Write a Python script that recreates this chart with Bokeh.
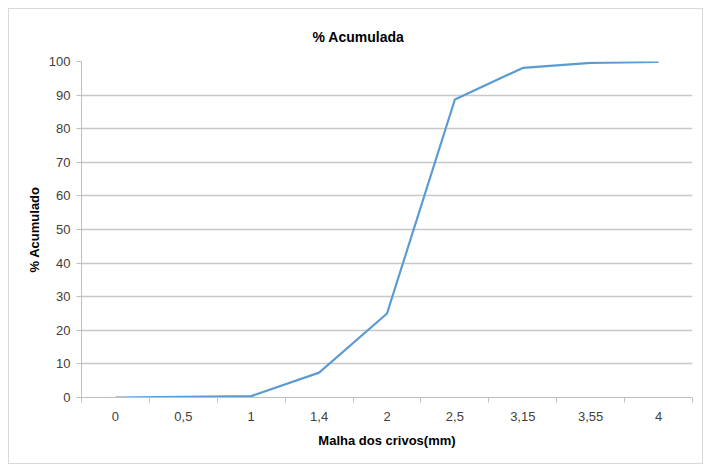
from bokeh.plotting import figure
from bokeh.models import FixedTicker, Range1d
from bokeh.embed import file_html
from bokeh.resources import INLINE

categories = ["0", "0,5", "1", "1,4", "2", "2,5", "3,15", "3,55", "4"]
acumulado = [0.0, 0.2, 0.4, 7.4, 25.0, 88.7, 98.1, 99.6, 99.9]
y_ticks = [0, 10, 20, 30, 40, 50, 60, 70, 80, 90, 100]

xs = list(range(len(categories)))
FONT = "Liberation Sans"

p = figure(width=695, height=456, output_backend="svg", toolbar_location=None,
           x_range=Range1d(-0.5, len(categories) - 0.5), y_range=Range1d(0, 100),
           min_border_left=72, min_border_right=12, min_border_top=52, min_border_bottom=68,
           title="% Acumulada")
p.styles = {"border": "1px solid #d9d9d9", "margin-left": "8px", "margin-top": "8px"}
p.outline_line_color = None
p.background_fill_color = "white"
p.border_fill_color = "white"

p.title.align = "left"
p.title.offset = 231
p.title.text_font = FONT
p.title.text_font_size = "14px"
p.title.text_font_style = "bold"
p.title.text_color = "#000000"
p.title.standoff = 34

p.line(xs, acumulado, line_color="#5B9BD5", line_width=2.2)

# x axis
p.xaxis.ticker = FixedTicker(ticks=xs, minor_ticks=[i - 0.5 for i in range(len(categories) + 1)])
p.xaxis.major_label_overrides = {i: c for i, c in enumerate(categories)}
p.xaxis.major_tick_line_color = None
p.xaxis.minor_tick_line_color = "#bfbfbf"
p.xaxis.minor_tick_out = 5
p.xaxis.minor_tick_in = 0
p.xaxis.axis_line_color = "#bfbfbf"
p.xaxis.major_label_standoff = 8
p.xaxis.axis_label = "Malha dos crivos(mm)"
p.xaxis.axis_label_standoff = 9

# y axis
p.yaxis.ticker = FixedTicker(ticks=y_ticks)
p.yaxis.minor_tick_line_color = None
p.yaxis.major_tick_line_color = "#bfbfbf"
p.yaxis.major_tick_out = 5
p.yaxis.major_tick_in = 0
p.yaxis.axis_line_color = "#bfbfbf"
p.yaxis.major_label_standoff = 6
p.yaxis.axis_label = "% Acumulado"
p.yaxis.axis_label_standoff = 4

for ax in (p.xaxis, p.yaxis):
    ax.major_label_text_font = FONT
    ax.major_label_text_font_size = "13px"
    ax.major_label_text_color = "#404040"
    ax.axis_label_text_font = FONT
    ax.axis_label_text_font_size = "13px"
    ax.axis_label_text_font_style = "bold"
    ax.axis_label_text_color = "#000000"

p.xgrid.grid_line_color = None
p.ygrid.grid_line_color = "#c8c8c8"
p.ygrid.grid_line_width = 1.3

open("out.html", "w").write(file_html(p, INLINE))
